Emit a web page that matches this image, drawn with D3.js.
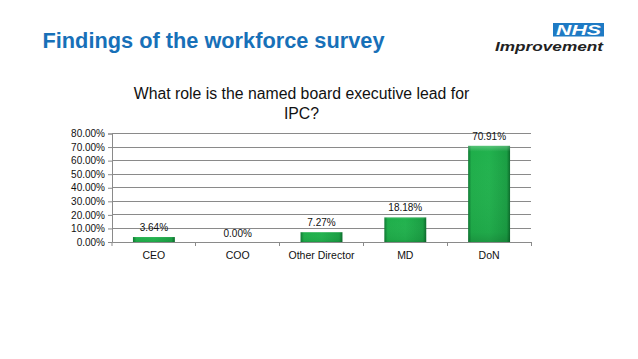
<!DOCTYPE html>
<html><head><meta charset="utf-8">
<script src="https://cdn.jsdelivr.net/npm/d3@7"></script>
<style>body{margin:0;background:#fff;}svg{display:block;font-family:"Liberation Sans",Arial,sans-serif;}</style>
</head><body>
<svg id="c" width="638" height="359"></svg>
<script>
const categories = ["CEO","COO","Other Director","MD","DoN"];
const values = [3.64, 0.00, 7.27, 18.18, 70.91];
const yTicks = [0,10,20,30,40,50,60,70,80];
const pageTitle = "Findings of the workforce survey";
const chartTitle = ["What role is the named board executive lead for","IPC?"];

(function(){
const svg = d3.select("#c");
const defs = svg.append("defs");
const g1 = defs.append("linearGradient").attr("id","gh").attr("x1",0).attr("x2",1).attr("y1",0).attr("y2",0);
g1.append("stop").attr("offset","0%").attr("stop-color","#0e7a33");
g1.append("stop").attr("offset","8%").attr("stop-color","#1fae4a");
g1.append("stop").attr("offset","50%").attr("stop-color","#22b24e");
g1.append("stop").attr("offset","92%").attr("stop-color","#1a9e43");
g1.append("stop").attr("offset","100%").attr("stop-color","#0b6b2b");
const g2 = defs.append("linearGradient").attr("id","gv").attr("x1",0).attr("x2",0).attr("y1",0).attr("y2",1);
g2.append("stop").attr("offset","0%").attr("stop-color","#fff").attr("stop-opacity",0.25);
g2.append("stop").attr("offset","6%").attr("stop-color","#fff").attr("stop-opacity",0);
g2.append("stop").attr("offset","90%").attr("stop-color","#000").attr("stop-opacity",0.05);
g2.append("stop").attr("offset","100%").attr("stop-color","#000").attr("stop-opacity",0.15);

// page title
svg.append("text").attr("x",42.5).attr("y",48).attr("fill","#1770b8")
  .attr("font-size",21.5).attr("font-weight","bold")
  .attr("textLength",342).attr("lengthAdjust","spacingAndGlyphs").text(pageTitle);

// NHS logo
svg.append("rect").attr("x",553).attr("y",23).attr("width",51).attr("height",13.5).attr("fill","#1e7ac4");
svg.append("text").attr("x",556).attr("y",35).attr("fill","#fff")
  .attr("font-size",14).attr("font-weight","bold").attr("font-style","italic")
  .attr("textLength",45).attr("lengthAdjust","spacingAndGlyphs").text("NHS");
svg.append("text").attr("x",495).attr("y",51).attr("fill","#222")
  .attr("font-size",13).attr("font-weight","bold").attr("font-style","italic")
  .attr("textLength",108).attr("lengthAdjust","spacingAndGlyphs").text("Improvement");

// chart title
const ct = svg.append("text").attr("text-anchor","middle").attr("font-size",15.8).attr("fill","#111");
chartTitle.forEach((t,i)=>ct.append("tspan").attr("x",301.5).attr("y",99+i*19.5).text(t));

const pl=112, pr=531, pt=133.5, pb=242;
const x = d3.scaleBand().domain(categories).range([pl,pr]).paddingInner(0.5).paddingOuter(0.25);
const xb = d3.scaleBand().domain(categories).range([pl,pr]);
const y = d3.scaleLinear().domain([0,80]).range([pb,pt]);

// gridlines
svg.append("g").selectAll("line").data(yTicks.filter(d=>d>0)).join("line")
  .attr("x1",pl).attr("x2",pr).attr("y1",d=>y(d)).attr("y2",d=>y(d))
  .attr("stroke","#8a8a8a").attr("stroke-width",1).attr("shape-rendering","crispEdges");

// y axis
const ya = svg.append("g").attr("transform",`translate(${pl},0)`)
  .call(d3.axisLeft(y).tickValues(yTicks).tickSize(4).tickFormat(d=>d.toFixed(2)+"%"));
ya.select(".domain").attr("stroke","#8a8a8a");
ya.selectAll(".tick line").attr("stroke","#8a8a8a");
ya.selectAll("text").attr("font-size",10).attr("fill","#111").attr("font-family","Liberation Sans, Arial, sans-serif");

// x axis
const xa = svg.append("g").attr("transform",`translate(0,${pb})`)
  .call(d3.axisBottom(xb).tickSize(0).tickPadding(10));
xa.select(".domain").attr("stroke","#8a8a8a");
xa.selectAll("text").attr("font-size",10.5).attr("fill","#111").attr("font-family","Liberation Sans, Arial, sans-serif");
svg.append("g").selectAll("line").data(categories).join("line")
  .attr("x1",d=>xb(d)+xb.bandwidth()).attr("x2",d=>xb(d)+xb.bandwidth())
  .attr("y1",pb).attr("y2",pb+4).attr("stroke","#8a8a8a").attr("shape-rendering","crispEdges");
svg.append("line").attr("x1",pl).attr("x2",pl).attr("y1",pb).attr("y2",pb+4).attr("stroke","#8a8a8a");

// bars
const bars = svg.append("g");
bars.selectAll("rect.b").data(values).join("rect").attr("class","b")
  .attr("x",(d,i)=>x(categories[i])).attr("width",x.bandwidth())
  .attr("y",d=>y(d)).attr("height",d=>pb-y(d)).attr("fill","url(#gh)");
bars.selectAll("rect.o").data(values).join("rect").attr("class","o")
  .attr("x",(d,i)=>x(categories[i])).attr("width",x.bandwidth())
  .attr("y",d=>y(d)).attr("height",d=>pb-y(d)).attr("fill","url(#gv)");

// value labels
svg.append("g").selectAll("text").data(values).join("text")
  .attr("x",(d,i)=>x(categories[i])+x.bandwidth()/2)
  .attr("y",d=>d===0? pb-5 : y(d)-6)
  .attr("text-anchor","middle").attr("font-size",10).attr("fill","#111")
  .text(d=>d.toFixed(2)+"%");
})();
</script>
</body></html>
